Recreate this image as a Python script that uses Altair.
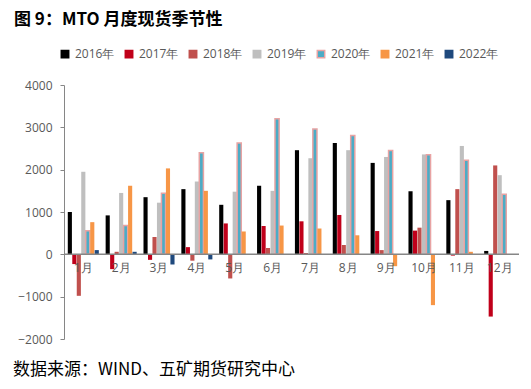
import altair as alt
import pandas as pd

months = ["1月", "2月", "3月", "4月", "5月", "6月", "7月", "8月", "9月", "10月", "11月", "12月"]
years = ["2016年", "2017年", "2018年", "2019年", "2020年", "2021年", "2022年"]

v2016 = [1000, 920, 1350, 1540, 1170, 1620, 2460, 2630, 2160, 1490, 1280, 80]
v2017 = [-230, -350, -130, 170, 730, 670, 780, 930, 550, 560, -30, -1470]
v2018 = [-980, 60, 410, -150, -570, 150, 30, 220, 100, 630, 1540, 2100]
v2019 = [1950, 1450, 1220, 1720, 1480, 1500, 2270, 2460, 2300, 2360, 2560, 1870]
v2020 = [560, 680, 1440, 2400, 2630, 3200, 2960, 2810, 2450, 2350, 2220, 1420]
v2021 = [760, 1620, 2030, 1500, 540, 680, 610, 450, -280, -1200, 60, 0]
v2022 = [100, 60, -240, -120, None, None, None, None, None, None, None, None]

series = [v2016, v2017, v2018, v2019, v2020, v2021, v2022]
fills = ["#000000", "#C0001A", "#C0504D", "#BFBFBF", "#4BACC6", "#F79646", "#1F497D"]
strokes = ["#000000", "#C0001A", "#C0504D", "#BFBFBF", "#E8A3A3", "#F79646", "#1F497D"]

rows = []
for y, vals in zip(years, series):
    for m, v in zip(months, vals):
        if v is not None:
            rows.append({"month": m, "year": y, "value": v})
df = pd.DataFrame(rows)

xscale = alt.Scale(paddingInner=0.18, paddingOuter=0.1)
yscale = alt.Scale(domain=[-2000, 4000], nice=False)

bars = alt.Chart(df).mark_bar(strokeWidth=0).encode(
    x=alt.X("month:N", sort=months, scale=xscale, axis=None),
    xOffset=alt.XOffset("year:N", sort=years, scale=alt.Scale(paddingInner=0.08)),
    y=alt.Y("value:Q", scale=yscale,
            axis=alt.Axis(values=[-2000, -1000, 0, 1000, 2000, 3000, 4000], grid=False,
                          domainColor="#868686", tickColor="#868686", tickSize=4,
                          labelColor="#595959", labelFontSize=12, labelPadding=8,
                          labelFont="Open Sans", title=None, format="d")),
    fill=alt.Fill("year:N", sort=years, scale=alt.Scale(domain=years, range=fills),
                  legend=alt.Legend(title=None, orient="none", direction="horizontal",
                                    legendX=-5, legendY=-37, symbolType="square",
                                    symbolSize=55, labelFontSize=12, labelColor="#595959",
                                    labelFont="Open Sans", columnPadding=7,
                                    labelOffset=4, symbolStrokeWidth=1.5)),
    stroke=alt.Stroke("year:N", sort=years, scale=alt.Scale(domain=years, range=strokes)),
    strokeWidth=alt.condition(alt.datum.year == "2020年", alt.value(1.5), alt.value(0)),
)

zero = alt.Chart(pd.DataFrame({"z": [0]})).mark_rule(color="#868686", strokeWidth=1.5).encode(
    y=alt.Y("z:Q", scale=yscale)
)

labels = alt.Chart(pd.DataFrame({"month": months})).mark_text(
    dy=14, fontSize=12, color="#595959", font="Open Sans"
).encode(
    x=alt.X("month:N", sort=months, scale=xscale),
    y=alt.datum(0),
    text="month:N",
)

title = alt.Chart(pd.DataFrame({"t": ["图 9：MTO 月度现货季节性"]})).mark_text(
    align="left", baseline="top", fontSize=17, fontWeight="bold",
    font="Noto Sans CJK SC", color="#000000"
).encode(x=alt.value(-50), y=alt.value(-73), text="t:N")

source = alt.Chart(pd.DataFrame({"t": ["数据来源：WIND、五矿期货研究中心"]})).mark_text(
    align="left", baseline="middle", fontSize=17,
    font="Noto Sans CJK SC", color="#000000"
).encode(x=alt.value(-51), y=alt.value(285), text="t:N")

chart = alt.layer(bars, zero, labels, title, source).properties(
    width=455, height=254,
    autosize=alt.AutoSizeParams(type="none"),
    padding={"left": 56, "top": 77, "right": 4, "bottom": 42},
).configure_view(stroke=None)

chart.save("out.html", embed_options={"renderer": "svg", "actions": False})
